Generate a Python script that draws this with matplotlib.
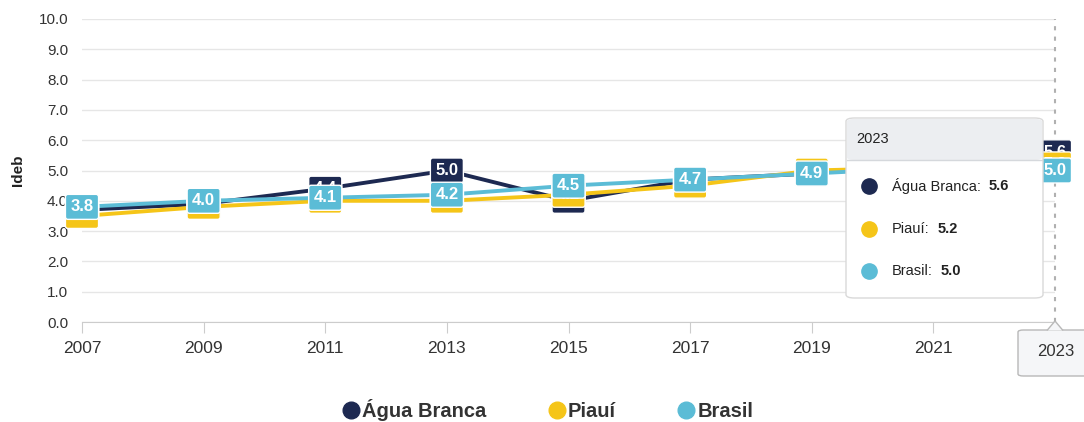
import matplotlib
matplotlib.use("Agg")
import matplotlib.pyplot as plt
from matplotlib.patches import FancyBboxPatch, Polygon
from matplotlib.lines import Line2D

plt.rcParams['font.family'] = ['Liberation Sans', 'DejaVu Sans']

years = [2007, 2009, 2011, 2013, 2015, 2017, 2019, 2021, 2023]
agua_branca = [3.7, 3.9, 4.4, 5.0, 4.0, 4.7, 4.9, 5.3, 5.6]
piaui = [3.5, 3.8, 4.0, 4.0, 4.2, 4.5, 5.0, 5.1, 5.2]
brasil = [3.8, 4.0, 4.1, 4.2, 4.5, 4.7, 4.9, 5.1, 5.0]
series_names = ['Água Branca', 'Piauí', 'Brasil']
colors = ['#1d2951', '#f5c518', '#5bbcd6']
yticks = [0, 1, 2, 3, 4, 5, 6, 7, 8, 9, 10]
tooltip_year = 2023

W, H = 1084, 422
fig = plt.figure(figsize=(W / 100, H / 100), dpi=100)
ax = fig.add_axes([82 / W, 1 - 322 / H, (1055 - 82) / W, (322 - 19) / H])

ax.set_xlim(years[0], years[-1])
ax.set_ylim(0, 10)
ax.set_yticks(yticks)
ax.set_yticklabels([f'{v:.1f}' for v in yticks], fontsize=11, color='#333333')
ax.set_xticks(years)
ax.set_xticklabels([str(y) for y in years], fontsize=12.5, color='#333333')
ax.tick_params(axis='y', length=0, pad=10)
ax.tick_params(axis='x', length=8, color='#cccccc', pad=6)
ax.grid(axis='y', color='#e6e6e6', lw=1)
ax.set_axisbelow(True)
for s in ['top', 'right', 'left']:
    ax.spines[s].set_visible(False)
ax.spines['bottom'].set_color('#cccccc')
ax.set_ylabel('Ideb', fontsize=11, fontweight='bold', color='#222222', labelpad=10)

ax.axvline(tooltip_year, color='#b0b0b0', ls=(0, (2, 3)), lw=1.5, zorder=1, clip_on=False)

data = [agua_branca, piaui, brasil]
for i, (vals, c) in enumerate(zip(data, colors)):
    ax.plot(years, vals, color=c, lw=2.8, zorder=2 + i, clip_on=False, solid_capstyle='round')
for i, (vals, c) in enumerate(zip(data, colors)):
    for x, y in zip(years, vals):
        ax.text(x, y, f'{y:.1f}', ha='center', va='center', fontsize=12, fontweight='bold',
                color='white', zorder=6 + i, clip_on=False,
                bbox=dict(boxstyle='round,pad=0.3,rounding_size=0.15', fc=c, ec='white', lw=1))

def fx(x):
    return x / W

def fy(y):
    return 1 - y / H

# Tooltip box
tx0, ty0, tx1, ty1 = 846, 118, 1043, 298
box = FancyBboxPatch((fx(tx0), fy(ty1)), fx(tx1 - tx0), (ty1 - ty0) / H,
                     boxstyle='round,pad=0,rounding_size=0.008', transform=fig.transFigure,
                     fc='white', ec='#d9d9d9', lw=1, zorder=20)
fig.patches.append(box)
hdr = FancyBboxPatch((fx(tx0 + 1), fy(160)), fx(tx1 - tx0 - 2), (160 - ty0 - 1) / H,
                     boxstyle='round,pad=0,rounding_size=0.006', transform=fig.transFigure,
                     fc='#eceef1', ec='none', zorder=21)
fig.patches.append(hdr)
fig.lines.append(Line2D([fx(tx0 + 1), fx(tx1 - 1)], [fy(160), fy(160)], transform=fig.transFigure,
                        color='#d5d8dc', lw=1, zorder=22))
fig.text(fx(856), fy(139), str(tooltip_year), fontsize=10.5, color='#222222', va='center', zorder=23)
idx = years.index(tooltip_year)
row_y = [186, 229, 271]
renderer = fig.canvas.get_renderer()
for name, vals, c, ry in zip(series_names, data, colors, row_y):
    fig.lines.append(Line2D([fx(869)], [fy(ry)], transform=fig.transFigure, marker='o', ms=11,
                            color=c, ls='none', zorder=23))
    t = fig.text(fx(892), fy(ry), f'{name}:', fontsize=10.5, color='#222222', va='center', zorder=23)
    bb = t.get_window_extent(renderer=renderer)
    fig.text(fx(bb.x1 + 8), fy(ry), f'{vals[idx]:.1f}', fontsize=10.5, fontweight='bold', color='#222222',
             va='center', zorder=23)

# X crosshair label
lx0, ly0, lx1, ly1 = 1018, 330, 1090, 376
xbox = FancyBboxPatch((fx(lx0), fy(ly1)), fx(lx1 - lx0), (ly1 - ly0) / H,
                      boxstyle='round,pad=0,rounding_size=0.005', transform=fig.transFigure,
                      fc='#f5f6f8', ec='#b8b8b8', lw=1, zorder=20)
fig.patches.append(xbox)
arrow = Polygon([[fx(1047), fy(330.5)], [fx(1055), fy(321)], [fx(1063), fy(330.5)]], closed=False,
                transform=fig.transFigure, fc='#f5f6f8', ec='#b8b8b8', lw=1, zorder=21)
fig.patches.append(arrow)
fig.text(fx(1056), fy(352), str(tooltip_year), fontsize=12, color='#333333', ha='center', va='center', zorder=23)

handles = [Line2D([0], [0], marker='o', color=c, ls='none', ms=12) for c in colors]
leg = fig.legend(handles, series_names, loc='center', bbox_to_anchor=(547 / W, 1 - 410 / H), ncol=3,
                 frameon=False, handletextpad=0.05, columnspacing=3.0, handlelength=1.0,
                 prop={'size': 14.5, 'weight': 'bold'})
for t in leg.get_texts():
    t.set_color('#333333')

fig.savefig('out.png', dpi=100)
